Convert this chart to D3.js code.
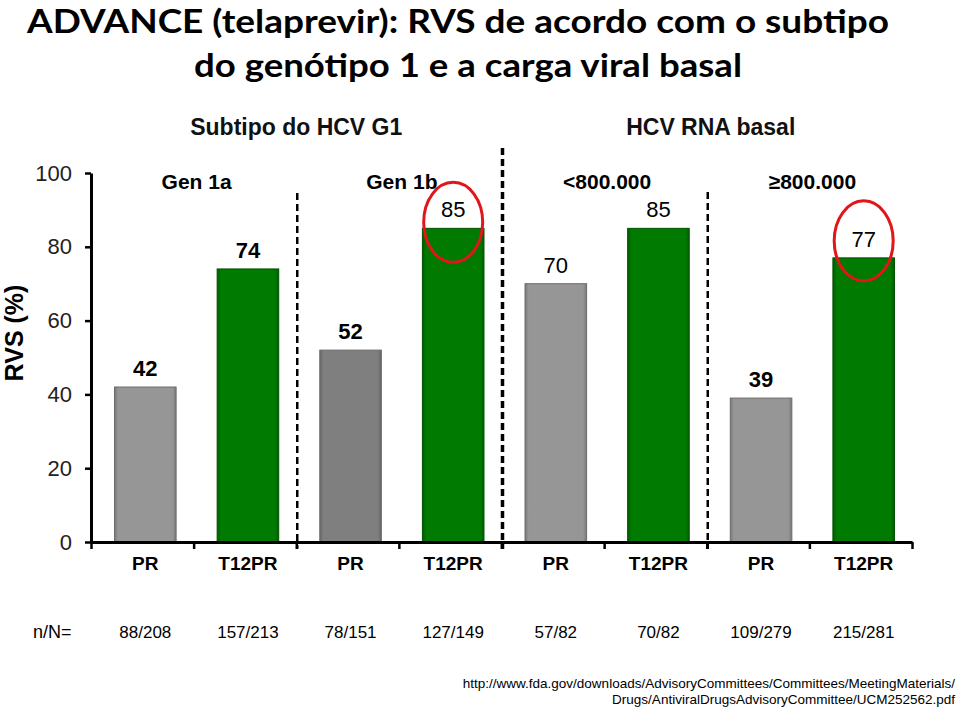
<!DOCTYPE html>
<html><head><meta charset="utf-8">
<script src="https://cdn.jsdelivr.net/npm/d3@7"></script>
<style>body{margin:0;background:#fff}svg{display:block}</style>
</head><body>
<svg id="c" width="960" height="708"></svg>
<script>
const categories = ["PR","T12PR","PR","T12PR","PR","T12PR","PR","T12PR"];
const values = [42,74,52,85,70,85,39,77];
const nN = ["88/208","157/213","78/151","127/149","57/82","70/82","109/279","215/281"];
const groups = ["Gen 1a","Gen 1b","<800.000","\u2265800.000"];
const headers = ["Subtipo do HCV G1","HCV RNA basal"];
const yTicks = [0,20,40,60,80,100];
const titleLines = ["ADVANCE (telaprevir): RVS de acordo com o subtipo","do genótipo 1 e a carga viral basal"];
const urlLines = ["http://www.fda.gov/downloads/AdvisoryCommittees/Committees/MeetingMaterials/","Drugs/AntiviralDrugsAdvisoryCommittee/UCM252562.pdf"];

const svg = d3.select("#c");
const AR = "'Liberation Sans', Arial, sans-serif";
const y = d3.scaleLinear().domain([0,100]).range([542,173]);
const xb = d3.scaleBand().domain(d3.range(categories.length)).range([91,912]).padding(0);
const xl = d3.scaleLinear().domain([0,categories.length]).range([91,912]);
const bw = xb.bandwidth()*0.6, shift = 3;
const cx = i => xb(i) + xb.bandwidth()/2 + shift;

// title
const tt = svg.append("g").attr("font-family","Lato, 'Open Sans', sans-serif").attr("font-weight","bold").attr("font-size",33).attr("fill","#000");
tt.append("text").attr("x",27).attr("y",33).attr("textLength",862).attr("lengthAdjust","spacingAndGlyphs").text(titleLines[0]);
tt.append("text").attr("x",194).attr("y",77).attr("textLength",548).attr("lengthAdjust","spacingAndGlyphs").text(titleLines[1]);

// headers
svg.append("text").attr("x",(xl(0)+xl(4))/2).attr("y",135).attr("text-anchor","middle")
  .attr("font-family",AR).attr("font-weight","bold").attr("font-size",23).attr("fill","#111").text(headers[0]);
svg.append("text").attr("x",(xl(4)+xl(8))/2+4).attr("y",135).attr("text-anchor","middle")
  .attr("font-family",AR).attr("font-weight","bold").attr("font-size",23).attr("fill","#111").text(headers[1]);

// defs gradients
const defs = svg.append("defs");
function grad(id, edge, mid){
  const g = defs.append("linearGradient").attr("id",id).attr("x1",0).attr("x2",1).attr("y1",0).attr("y2",0);
  g.append("stop").attr("offset","0").attr("stop-color",edge);
  g.append("stop").attr("offset","0.06").attr("stop-color",mid);
  g.append("stop").attr("offset","0.94").attr("stop-color",mid);
  g.append("stop").attr("offset","1").attr("stop-color",edge);
}
grad("gGray","#7a7a7a","#969696");
grad("gDark","#666","#7f7f7f");
grad("gGreen","#005c00","#007a00");
const fillFor = i => i%2===1 ? "url(#gGreen)" : (i===2 ? "url(#gDark)" : "url(#gGray)");
const strokeFor = i => i%2===1 ? "#005000" : "#6a6a6a";

// dividers
[[2,193,2.5],[4,148,3.5],[6,192,2.5]].forEach(([k,top,w])=>{
  svg.append("line").attr("x1",xl(k)+1).attr("x2",xl(k)+1).attr("y1",top).attr("y2",549)
    .attr("stroke","#000").attr("stroke-width",w).attr("stroke-dasharray","7,4");
});

// bars
svg.append("g").selectAll("rect").data(values).join("rect")
  .attr("x",(d,i)=>cx(i)-bw/2).attr("width",bw)
  .attr("y",d=>y(d)).attr("height",d=>y(0)-y(d))
  .attr("fill",(d,i)=>fillFor(i)).attr("stroke",(d,i)=>strokeFor(i)).attr("stroke-width",1);

// value labels
const plain = new Set([3,4,5,7]);
svg.append("g").selectAll("text").data(values).join("text")
  .attr("x",(d,i)=>cx(i)).attr("y",d=>y(d)-11).attr("text-anchor","middle")
  .attr("font-family",AR).attr("font-size",22)
  .attr("font-weight",(d,i)=>plain.has(i)?"normal":"bold").attr("fill","#000").text(d=>d);

// red ellipses
[[3,-6],[7,-17]].forEach(([i,dy])=>{
  svg.append("ellipse").attr("cx",cx(i)).attr("cy",y(values[i])+dy).attr("rx",29.5).attr("ry",40)
    .attr("fill","none").attr("stroke","#e0161b").attr("stroke-width",3);
});

// group labels
groups.forEach((g,k)=>{
  svg.append("text").attr("x",xl(2*k+1)+shift).attr("y",189).attr("text-anchor","middle")
    .attr("font-family",AR).attr("font-weight","bold").attr("font-size",21).attr("fill","#000").text(g);
});

// y axis
const ya = svg.append("g").attr("transform","translate(91,0)")
  .call(d3.axisLeft(y).tickValues(yTicks).tickSize(6).tickSizeOuter(0).tickPadding(13));
ya.select(".domain").attr("stroke","#000").attr("stroke-width",3);
ya.selectAll(".tick line").attr("stroke","#000").attr("stroke-width",2.5);
ya.selectAll(".tick text").attr("font-family",AR).attr("font-size",22).attr("fill","#222");

// x axis
const xa = svg.append("g").attr("transform","translate(0,542)")
  .call(d3.axisBottom(xl).tickValues(d3.range(categories.length+1)).tickSize(7).tickSizeOuter(0).tickFormat(""));
xa.select(".domain").attr("stroke","#000").attr("stroke-width",3);
xa.selectAll(".tick line").attr("stroke","#000").attr("stroke-width",2.5);

// category labels
svg.append("g").selectAll("text").data(categories).join("text")
  .attr("x",(d,i)=>cx(i)).attr("y",570).attr("text-anchor","middle")
  .attr("font-family",AR).attr("font-weight","bold").attr("font-size",19).attr("fill","#000").text(d=>d);

// y title
svg.append("text").attr("transform","translate(23,333) rotate(-90)").attr("text-anchor","middle")
  .attr("font-family",AR).attr("font-weight","bold").attr("font-size",25).attr("fill","#000").text("RVS (%)");

// n/N row
svg.append("text").attr("x",33).attr("y",638).attr("font-family",AR).attr("font-size",18).attr("fill","#000").text("n/N=");
svg.append("g").selectAll("text").data(nN).join("text")
  .attr("x",(d,i)=>cx(i)).attr("y",638).attr("text-anchor","middle")
  .attr("font-family",AR).attr("font-size",17).attr("fill","#000").text(d=>d);

// source
svg.append("text").attr("x",955).attr("y",688).attr("text-anchor","end")
  .attr("font-family",AR).attr("font-size",13.5).attr("fill","#000").text(urlLines[0]);
svg.append("text").attr("x",955).attr("y",704).attr("text-anchor","end")
  .attr("font-family",AR).attr("font-size",13.5).attr("fill","#000").text(urlLines[1]);
</script>
</body></html>
